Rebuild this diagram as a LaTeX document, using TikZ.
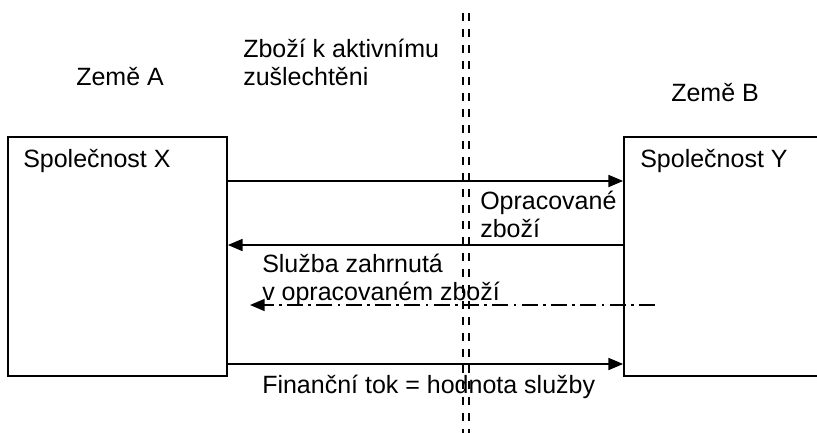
\documentclass[tikz,border=0pt]{standalone}
\usepackage{fontspec}
\setmainfont{Liberation Sans}
\usetikzlibrary{arrows.meta}

\begin{document}
\begin{tikzpicture}[x=0.75pt,y=-0.75pt,
	font=\fontsize{18.75pt}{21pt}\selectfont,
	sipka/.style={line width=1.2pt,-{Triangle[length=11pt,width=9pt]}},
	sluzba/.style={sipka,dash pattern=on 12pt off 4pt on 2pt off 4pt},
	firma/.style={draw,line width=1.3pt,minimum width=#1,minimum height=179.25pt,inner sep=0pt},
	popis/.style={anchor=base west,inner sep=0pt,align=left},
	hranice/.style={line width=2pt,dash pattern=on 6pt off 6pt}]
	\useasboundingbox (0,0) rectangle (817,432);
	\clip (0,0) rectangle (817,432);
	% hranice mezi zememi
	\coordinate (H1) at (463,13);
	\coordinate (H2) at (469,13);
	\draw[hranice] (H1) -- (H1 |- 0,440);
	\draw[hranice] (H2) -- (H2 |- 0,440);
	% spolecnosti
	\node[firma=164.25pt] (X) at (117.5,256.5) {};
	\node[firma=162pt] (Y) at (732,256.5) {};
	\node[popis] (nazevX) at (23,167) {Společnost X};
	\node[popis] (nazevY) at (640,167) {Společnost Y};
	\node[popis] (zemeA) at (76,85) {Země A};
	\node[popis] (zemeB) at (671,101) {Země B};
	\node[popis] (zbozi) at (243,85) {Zboží k aktivnímu\\zušlechtěni};
	% toky
	\draw[sipka] (X.east |- 0,181) -- (Y.west |- 0,181);
	\node[popis] (opracovane) at (480,237) {Opracované\\zboží};
	\draw[sipka] (Y.west |- 0,245) -- (X.east |- 0,245);
	\node[popis] (sluzbaText) at (262,300) {Služba zahrnutá\\v opracovaném zboží};
	\coordinate (S1) at (655,305);
	\coordinate (S2) at (250,305);
	\draw[sluzba] (S1) -- (S2);
	\draw[sipka] (X.east |- 0,364) -- (Y.west |- 0,364);
	\node[popis] (financni) at (262,393) {Finanční tok = hodnota služby};
\end{tikzpicture}
\end{document}
